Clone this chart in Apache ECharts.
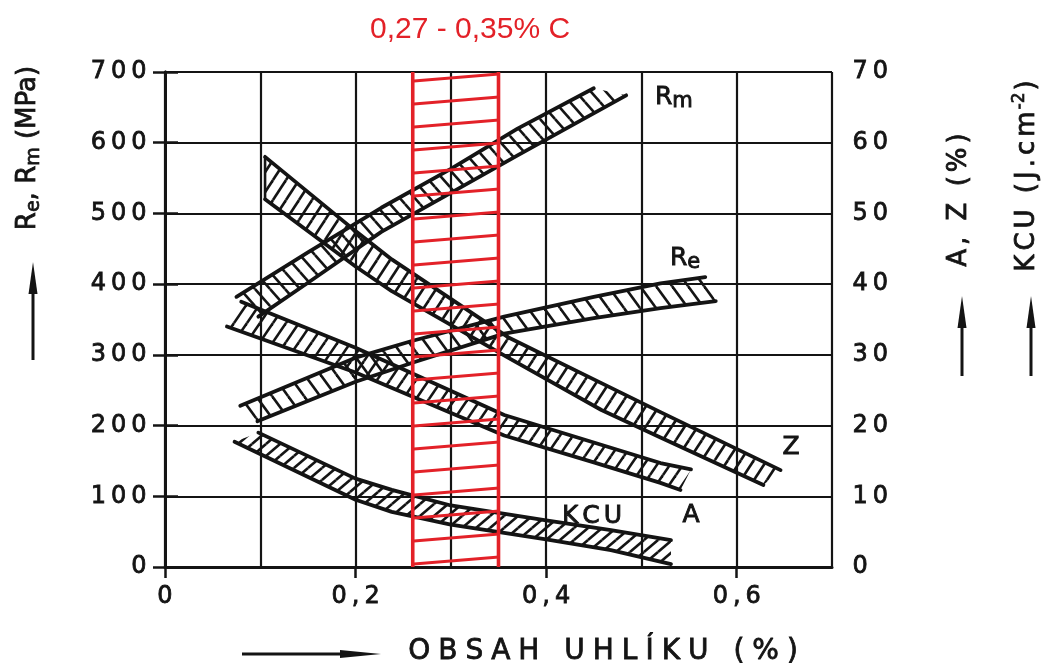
<!DOCTYPE html>
<html><head><meta charset="utf-8"><title>Vliv obsahu uhlíku</title>
<script src="https://cdn.jsdelivr.net/npm/echarts@6.0.0/dist/echarts.min.js"></script>
<style>html,body{margin:0;padding:0;background:#fff;}#chart{width:1054px;height:669px;}</style>
</head><body><div id="chart"></div>
<script>
// ---------------- data ----------------
const carbonLabelTicks = [0, 0.2, 0.4, 0.6];      // labelled ticks of the carbon axis (%)
const carbonRange = [0, 0.7];                      // carbon axis extent
const strengthRange = [0, 700];                    // Re, Rm (MPa)
const percentRange = [0, 70];                      // A, Z (%) / KCU (J.cm-2)
const redRange = [0.26, 0.35];                     // highlighted carbon window as drawn
const redLabel = '0,27 - 0,35% C';

// Rm band (MPa): [carbon %, value]
const rmUpper = [[0.075,382],[0.15,445],[0.227,508],[0.30,563],[0.37,620],[0.45,677]];
const rmLower = [[0.098,354],[0.15,402],[0.227,474],[0.30,529],[0.37,582],[0.484,667]];
// Re band (MPa)
const reUpper = [[0.079,228],[0.2,296],[0.26,320],[0.356,354],[0.45,382],[0.52,401],[0.567,410]];
const reLower = [[0.097,206],[0.2,262],[0.262,290],[0.356,330],[0.45,352],[0.52,366],[0.578,376]];
// Z band (%)
const zUpper = [[0.105,58],[0.2,47.5],[0.238,43.5],[0.36,32.5],[0.458,26],[0.52,21.9],[0.646,13.7]];
const zLower = [[0.105,52],[0.2,42.5],[0.238,39],[0.36,29.6],[0.458,22.2],[0.52,18.3],[0.628,11.6]];
// A band (%)
const aUpper = [[0.08,37.5],[0.2,31],[0.356,21.5],[0.45,17.6],[0.52,14.7],[0.552,13.8]];
const aLower = [[0.065,34],[0.2,27.5],[0.356,18.6],[0.45,14.8],[0.52,11.9],[0.541,10.9]];
// KCU band (J.cm-2)
const kcuUpper = [[0.098,19],[0.2,12.5],[0.238,10.9],[0.3,8.7],[0.4,6.6],[0.468,5.2],[0.531,3.8]];
const kcuLower = [[0.073,17.7],[0.2,9.5],[0.238,7.8],[0.3,6.0],[0.4,3.9],[0.468,2.4],[0.531,0.4]];

// ---------------- styling ----------------
const INK = '#141414';
const RED = '#e32128';
const FONT = 'DejaVu Sans';

function hatch(w, h, dir, color, lw) {
  const c = document.createElement('canvas');
  c.width = w; c.height = h;
  const ctx = c.getContext('2d');
  ctx.strokeStyle = color; ctx.lineWidth = lw; ctx.lineCap = 'butt';
  const offs = [[0,0],[w,0],[-w,0],[0,h],[0,-h]];
  for (const [dx, dy] of offs) {
    ctx.beginPath();
    if (dir === '/') { ctx.moveTo(dx, h + dy); ctx.lineTo(w + dx, dy); }
    else { ctx.moveTo(dx, dy); ctx.lineTo(w + dx, h + dy); }
    ctx.stroke();
  }
  return { image: c, repeat: 'repeat' };
}

function spaced(str, tok) {
  return str.split('').map(ch => '{' + tok + '|' + ch + '}').join('');
}

function band(name, upper, lower, yAxisIndex, pattern, closeStart) {
  return {
    type: 'custom', name: name, xAxisIndex: 0, yAxisIndex: yAxisIndex, z: 3,
    silent: true,
    data: [upper[0]],
    renderItem: function (params, api) {
      const up = upper.map(p => api.coord(p));
      const lo = lower.map(p => api.coord(p));
      const line = pts => ({
        type: 'polyline', shape: { points: pts },
        style: { stroke: INK, lineWidth: 3.8, fill: null, lineJoin: 'round', lineCap: 'round' }
      });
      const kids = [
        { type: 'polygon', shape: { points: up.concat(lo.slice().reverse()) }, style: { fill: pattern, stroke: null } },
        line(up), line(lo)
      ];
      if (closeStart) kids.push({ type: 'polyline', shape: { points: [up[0], lo[0]] }, style: { stroke: INK, lineWidth: 2.6, fill: null } });
      return { type: 'group', children: kids };
    }
  };
}

const chart = echarts.init(document.getElementById('chart'), null, { renderer: 'canvas' });

const B = { textBorderColor: INK, textBorderWidth: 0.8 };
const tickRich = { d: Object.assign({ fontSize: 24, fontFamily: FONT, color: INK, padding: [0, 2.5] }, B) };
const titleRich = {
  m: Object.assign({ fontSize: 26, fontFamily: FONT, fill: INK, lineHeight: 32 }, { textStroke: INK, textStrokeWidth: 0.8 }),
  s: { fontSize: 19, fontFamily: FONT, fill: INK, lineHeight: 14, verticalAlign: 'bottom', textStroke: INK, textStrokeWidth: 0.7 },
  u: { fontSize: 17, fontFamily: FONT, fill: INK, lineHeight: 12, verticalAlign: 'top', textStroke: INK, textStrokeWidth: 0.7 },
  p: { fontSize: 26, fontFamily: FONT, fill: INK, lineHeight: 32, padding: [0, 2], textStroke: INK, textStrokeWidth: 0.8 },
  b: { fontSize: 28, fontFamily: FONT, fill: INK, lineHeight: 34, padding: [0, 4], textStroke: INK, textStrokeWidth: 0.8 }
};
const inRich = {
  m: { fontSize: 25, fontFamily: FONT, fill: INK, lineHeight: 30, textStroke: INK, textStrokeWidth: 0.9 },
  s: { fontSize: 21, fontFamily: FONT, fill: INK, lineHeight: 14, verticalAlign: 'bottom', textStroke: INK, textStrokeWidth: 0.9 },
  p: { fontSize: 25, fontFamily: FONT, fill: INK, lineHeight: 30, padding: [0, 2], textStroke: INK, textStrokeWidth: 0.9 }
};
// zrender rich tokens use stroke/lineWidth for outlines
[titleRich, inRich].forEach(r => Object.keys(r).forEach(k => {
  r[k].stroke = r[k].textStroke; r[k].lineWidth = r[k].textStrokeWidth;
  delete r[k].textStroke; delete r[k].textStrokeWidth;
}));

function txt(x, y, text, rich, opts) {
  return Object.assign({
    type: 'text', x: x, y: y, z: 20, silent: true,
    style: { text: text, rich: rich, align: 'center', verticalAlign: 'middle', fill: INK, fontFamily: FONT }
  }, opts || {});
}
function vArrow(x, yBottom, yTip) {
  return [
    { type: 'line', z: 20, silent: true, shape: { x1: x, y1: yBottom, x2: x, y2: yTip + 26 }, style: { stroke: INK, lineWidth: 3 } },
    { type: 'polygon', z: 20, silent: true, shape: { points: [[x, yTip], [x - 4.5, yTip + 32], [x + 4.5, yTip + 32]] }, style: { fill: INK } }
  ];
}

const option = {
  backgroundColor: '#ffffff',
  animation: false,
  grid: { left: 165, right: 222, top: 72, bottom: 102, containLabel: false },
  xAxis: [
    {
      type: 'value', min: carbonRange[0], max: carbonRange[1], interval: 0.1, position: 'bottom',
      axisLine: { show: true, lineStyle: { color: INK, width: 3 } },
      axisTick: { show: false }, axisLabel: { show: false },
      splitLine: { show: true, lineStyle: { color: INK, width: 2.2 } }
    },
    {
      type: 'value', min: carbonRange[0], max: carbonRange[1], position: 'bottom',
      axisLine: { show: false },
      axisTick: { show: true, customValues: carbonLabelTicks, length: 11, lineStyle: { color: INK, width: 2.5 } },
      axisLabel: {
        show: true, customValues: carbonLabelTicks, margin: 18,
        formatter: v => spaced(String(v).replace('.', ','), 'd'), rich: tickRich
      },
      splitLine: { show: false }
    }
  ],
  yAxis: [
    {
      type: 'value', min: strengthRange[0], max: strengthRange[1], interval: 100, position: 'left',
      axisLine: { show: true, lineStyle: { color: INK, width: 3 } },
      axisTick: { show: true, length: 12, lineStyle: { color: INK, width: 2.5 } },
      axisLabel: { margin: 16, formatter: v => spaced(String(v), 'd'), rich: tickRich },
      splitLine: { show: true, lineStyle: { color: INK, width: 2.2 } }
    },
    {
      type: 'value', min: percentRange[0], max: percentRange[1], interval: 10, position: 'right',
      axisLine: { show: true, lineStyle: { color: INK, width: 3 } },
      axisTick: { show: true, length: 13, lineStyle: { color: INK, width: 2.5 } },
      axisLabel: { margin: 18, formatter: v => spaced(String(v), 'd'), rich: tickRich },
      splitLine: { show: false }
    }
  ],
  series: [
    band('Rm', rmUpper, rmLower, 0, hatch(15, 17, '\\', INK, 2.6), false),
    band('Re', reUpper, reLower, 0, hatch(16, 22, '\\', INK, 2.6), false),
    band('Z', zUpper, zLower, 1, hatch(13, 20, '/', INK, 2.6), true),
    band('A', aUpper, aLower, 1, hatch(13, 19, '/', INK, 2.6), false),
    band('KCU', kcuUpper, kcuLower, 1, hatch(14, 12, '/', INK, 2.6), false),
    {
      type: 'custom', name: 'range', xAxisIndex: 0, yAxisIndex: 0, z: 6, silent: true,
      data: [[redRange[0], strengthRange[0]]],
      renderItem: function (params, api) {
        const a = api.coord([redRange[0], strengthRange[1]]);
        const b = api.coord([redRange[1], strengthRange[0]]);
        return {
          type: 'group', children: [
            { type: 'rect', shape: { x: a[0], y: a[1], width: b[0] - a[0], height: b[1] - a[1] },
              style: { fill: hatch(280, 23, '/', RED, 3), stroke: null } },
            { type: 'line', shape: { x1: a[0], y1: a[1], x2: a[0], y2: b[1] }, style: { stroke: RED, lineWidth: 3.6 } },
            { type: 'line', shape: { x1: b[0], y1: a[1], x2: b[0], y2: b[1] }, style: { stroke: RED, lineWidth: 3.6 } }
          ]
        };
      }
    }
  ],
  graphic: [
    txt(470, 30, redLabel, null, { style: { text: redLabel, fontSize: 30, fontFamily: 'Liberation Sans', fill: RED, align: 'center', verticalAlign: 'middle' } }),
    // left axis title
    txt(28, 148, '{m|R}{s|e}{m|, R}{s|m}{m| (MPa)}', titleRich, { rotation: Math.PI / 2 }),
    ...vArrow(33, 360, 262),
    // right axis titles
    txt(959, 200, spaced('A, Z (%)', 'p'), titleRich, { rotation: Math.PI / 2 }),
    ...vArrow(962, 376, 296),
    txt(1027, 176, spaced('KCU (J.cm', 'p') + '{u|-2}{p|)}', titleRich, { rotation: Math.PI / 2 }),
    ...vArrow(1031, 376, 296),
    // bottom axis title
    { type: 'line', z: 20, silent: true, shape: { x1: 242, y1: 654, x2: 350, y2: 654 }, style: { stroke: INK, lineWidth: 3 } },
    { type: 'polygon', z: 20, silent: true, shape: { points: [[381, 654], [340, 650], [340, 658]] }, style: { fill: INK } },
    txt(603, 652, spaced('OBSAH UHLÍKU (%)', 'b'), titleRich),
    // labels inside the plot
    txt(655, 97, '{m|R}{s|m}', inRich, { style: { text: '{m|R}{s|m}', rich: inRich, align: 'left', verticalAlign: 'middle' } }),
    txt(670, 258, '{m|R}{s|e}', inRich, { style: { text: '{m|R}{s|e}', rich: inRich, align: 'left', verticalAlign: 'middle' } }),
    txt(791, 447, spaced('Z', 'p'), inRich),
    txt(592, 516, spaced('KCU', 'p'), inRich),
    txt(691, 515, spaced('A', 'p'), inRich)
  ]
};
chart.setOption(option);
</script>
</body></html>
